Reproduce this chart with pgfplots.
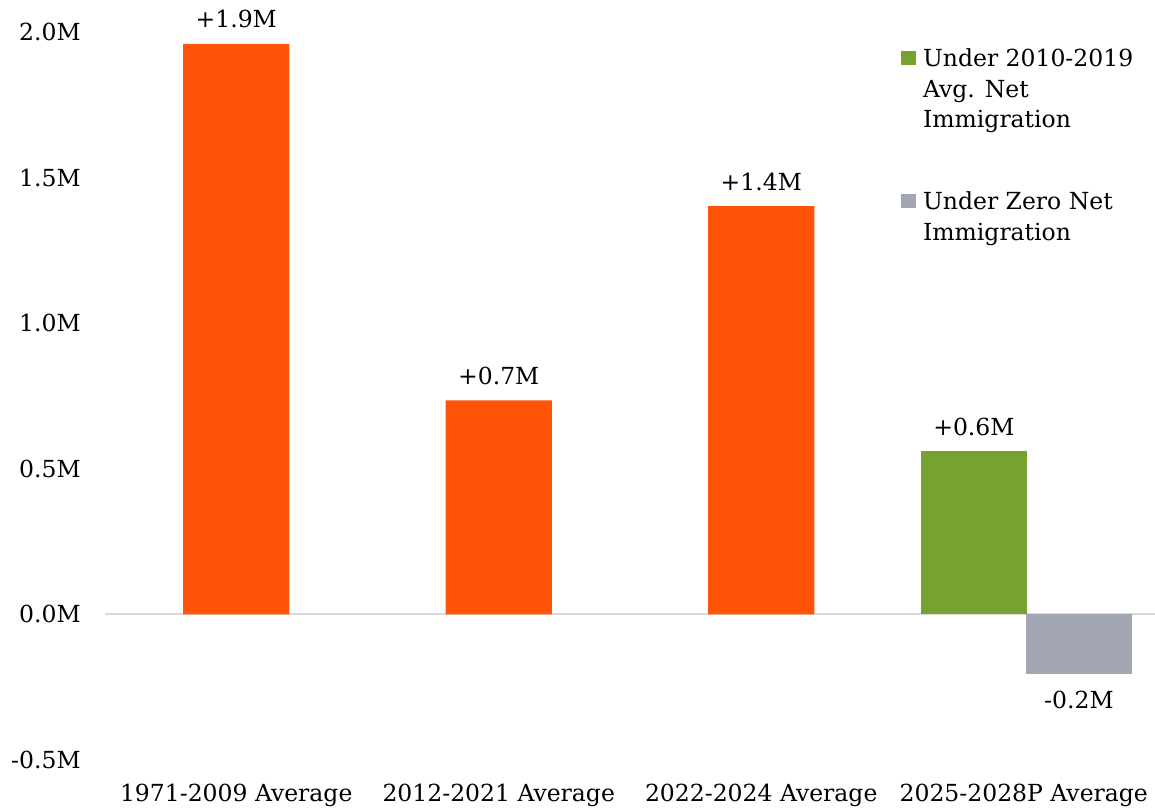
\documentclass[border=0pt]{standalone}
\usepackage{pgfplots}
\pgfplotsset{compat=1.18}
\usepackage{fontspec}
\setmainfont{DejaVu Serif}
\definecolor{barorange}{HTML}{FF5308}
\definecolor{bargreen}{HTML}{78A22F}
\definecolor{bargray}{HTML}{A1A6B2}
\definecolor{zeroline}{HTML}{D9D9D9}
\begin{document}
\fontsize{11.75pt}{15.25pt}\selectfont
\begin{tikzpicture}
\begin{axis}[
  width=525pt, height=364pt, scale only axis,
  xmin=-0.5, xmax=3.5, ymin=-0.5, ymax=2.0,
  axis line style={draw=none},
  major tick length=0pt,
  tick style={draw=none},
  xtick={0,1,2,3},
  xticklabels={1971-2009 Average, 2012-2021 Average, 2022-2024 Average, 2025-2028P Average},
  ytick={-0.5,0,0.5,1,1.5,2},
  yticklabels={-0.5M,0.0M,0.5M,1.0M,1.5M,2.0M},
  yticklabel style={anchor=east, inner sep=0pt, xshift=-12pt},
  xticklabel style={anchor=base, inner sep=0pt, yshift=-21pt},
  extra y ticks={0}, extra y tick labels={},
  extra y tick style={grid=major, major grid style={draw=zeroline, line width=1pt}},
  ybar, bar width=0.404, bar shift=0pt,
  legend cell align=left,
  legend style={at={(0.758,0.980)}, anchor=north west, draw=none, fill=none,
    inner sep=0pt, row sep=0pt, column sep=3.5pt,
    nodes={inner sep=0pt, text height=10pt, text depth=5.25pt}},
]
\addplot[fill=barorange, draw=none, forget plot, point meta=explicit symbolic,
  nodes near coords,
  every node near coord/.style={anchor=base, inner sep=0pt, yshift=8pt, black}]
  coordinates {(0,1.959)[+1.9M] (1,0.735)[+0.7M] (2,1.402)[+1.4M]};
\addplot[fill=bargreen, draw=none, forget plot, point meta=explicit symbolic,
  nodes near coords,
  every node near coord/.style={anchor=base, inner sep=0pt, yshift=8pt, black}]
  coordinates {(2.81,0.560)[+0.6M]};
\addplot[fill=bargray, draw=none, forget plot, point meta=explicit symbolic,
  nodes near coords,
  every node near coord/.style={anchor=base, inner sep=0pt, yshift=-17.5pt, black}]
  coordinates {(3.21,-0.203)[-0.2M]};
\addlegendimage{legend image code/.code={\fill[bargreen] (0pt,-1.25pt) rectangle (7pt,5.25pt);}}
\addlegendentry{Under 2010-2019}
\addlegendimage{empty legend}
\addlegendentry{Avg. Net}
\addlegendimage{empty legend}
\addlegendentry{Immigration}
\addlegendimage{empty legend}
\addlegendentry[text height=20.5pt]{}
\addlegendimage{legend image code/.code={\fill[bargray] (0pt,-1.25pt) rectangle (7pt,5.25pt);}}
\addlegendentry{Under Zero Net}
\addlegendimage{empty legend}
\addlegendentry{Immigration}
\end{axis}
\pgfresetboundingbox
\path[use as bounding box] ([xshift=-52.5pt,yshift=-25.5pt]current axis.south west) rectangle ([yshift=16pt]current axis.north east);
\end{tikzpicture}
\end{document}
